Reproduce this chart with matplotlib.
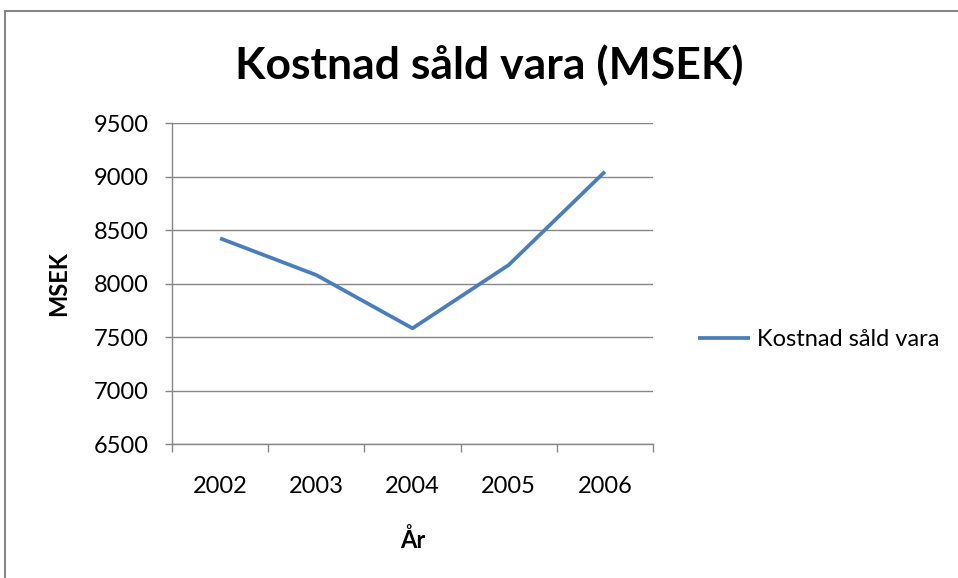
import matplotlib
matplotlib.use("Agg")
import matplotlib.pyplot as plt
from matplotlib.patches import Rectangle

years = ["2002", "2003", "2004", "2005", "2006"]
cost = [8425, 8082, 7584, 8176, 9048]
series_name = "Kostnad såld vara"
title = "Kostnad såld vara (MSEK)"
y_ticks = [6500, 7000, 7500, 8000, 8500, 9000, 9500]

plt.rcParams['font.family'] = ['Lato', 'DejaVu Sans']
gray = "#868686"
fs = 17

fig = plt.figure(figsize=(9.58, 5.78), dpi=100)
fig.patches.append(Rectangle((5 / 958, -0.1), 1.2, 1.1 - 11 / 578, transform=fig.transFigure,
                             fill=False, edgecolor=gray, linewidth=1.5))

ax = fig.add_axes([172 / 958, 1 - 444.3 / 578, 481 / 958, 321 / 578])
x = list(range(len(years)))
ln, = ax.plot(x, cost, color="#4a7ebb", linewidth=2.7, solid_capstyle="butt", label=series_name)

ax.set_xlim(-0.5, len(years) - 0.5)
ax.set_ylim(y_ticks[0], y_ticks[-1])
ax.set_yticks(y_ticks)
ax.set_xticks(x)
ax.set_xticklabels(years)
ax.set_xticks([i - 0.5 for i in range(len(years) + 1)], minor=True)
ax.tick_params(axis="x", which="major", length=0, pad=23, labelsize=fs)
ax.tick_params(axis="x", which="minor", length=6, color=gray, width=1)
ax.tick_params(axis="y", length=5, color=gray, width=1, labelsize=fs, pad=12)
ax.yaxis.grid(True, color=gray, linewidth=1)
ax.set_axisbelow(True)
for s in ["top", "right"]:
    ax.spines[s].set_visible(False)
for s in ["left", "bottom"]:
    ax.spines[s].set_color(gray)
    ax.spines[s].set_linewidth(1)

ax.set_ylabel("MSEK", fontsize=fs, fontweight="bold", labelpad=17)
ax.set_xlabel("År", fontsize=fs, fontweight="bold", labelpad=22)

fig.text(489 / 958, 1 - 65 / 578, title, fontsize=32, fontweight="bold", ha="center", va="center")

fig.legend(handles=[ln], loc="center left", bbox_to_anchor=(689 / 958, 1 - 340 / 578),
           frameon=False, fontsize=fs, handlelength=2.2, handletextpad=0.3, borderaxespad=0)

fig.savefig("out.png", dpi=100)
